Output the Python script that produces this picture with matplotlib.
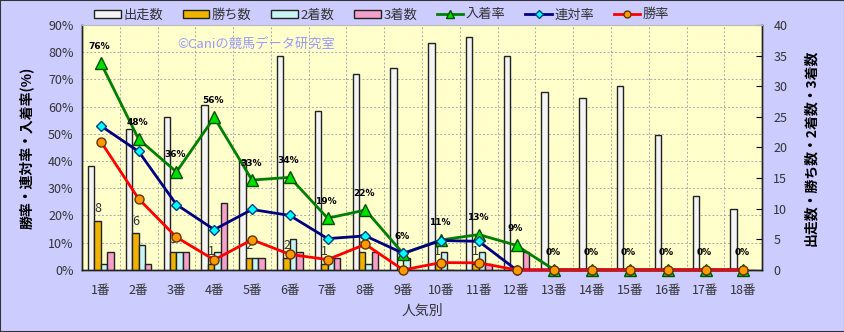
import matplotlib
matplotlib.use("Agg")
import matplotlib.pyplot as plt
from matplotlib.lines import Line2D
from matplotlib.patches import Patch, Rectangle
import numpy as np

plt.rcParams["font.family"] = ["Noto Sans CJK JP", "DejaVu Sans"]

CATEGORIES = [f"{i}番" for i in range(1, 19)]
STARTS = [17, 23, 25, 27, 18, 35, 26, 32, 33, 37, 38, 35, 29, 28, 30, 22, 12, 10]
WINS = [8, 6, 3, 1, 2, 2, 1, 3, 0, 1, 1, 0, 0, 0, 0, 0, 0, 0]
SECONDS = [1, 4, 3, 3, 2, 5, 2, 1, 2, 3, 3, 0, 0, 0, 0, 0, 0, 0]
THIRDS = [3, 1, 3, 11, 2, 3, 2, 3, 0, 0, 1, 3, 0, 0, 0, 0, 0, 0]
PLACE_RATE = [76, 48, 36, 56, 33, 34, 19, 22, 6, 11, 13, 9, 0, 0, 0, 0, 0, 0]
QUINELLA_RATE = [52.9, 43.5, 24.0, 14.8, 22.2, 20.0, 11.5, 12.5, 6.1, 10.8, 10.5,
                 0, 0, 0, 0, 0, 0, 0]
WIN_RATE = [47.1, 26.1, 12.0, 3.7, 11.1, 5.7, 3.8, 9.4, 0, 2.7, 2.6,
            0, 0, 0, 0, 0, 0, 0]

BG = "#CCCCFF"
PLOT_BG = "#FFFFCC"
TEXT = "#333333"

fig = plt.figure(figsize=(8.45, 3.32), dpi=100, facecolor=BG)
ax_bar = fig.add_axes([0.097, 0.187, 0.805, 0.738])
ax = ax_bar.twinx()
# lines on top of bars, left axis for rates
ax_bar.yaxis.tick_right()
ax_bar.yaxis.set_label_position("right")
ax.yaxis.tick_left()
ax.yaxis.set_label_position("left")
ax.set_zorder(ax_bar.get_zorder() + 1)
ax.patch.set_visible(False)
ax_bar.set_facecolor(PLOT_BG)

x = np.arange(len(CATEGORIES))
w = 0.17
bar_specs = [
    (STARTS, "#F4F4F4", "出走数"),
    (WINS, "#F0B400", "勝ち数"),
    (SECONDS, "#C8F4F4", "2着数"),
    (THIRDS, "#F4A0C8", "3着数"),
]
for k, (vals, color, _) in enumerate(bar_specs):
    ax_bar.bar(x + (k - 1.5) * w, vals, width=w, color=color,
               edgecolor="#222222", linewidth=1.0, zorder=3)

for i, v in enumerate(WINS):
    if v > 0:
        ax_bar.text(x[i] - 0.5 * w, v + 0.9, str(v), ha="center", va="bottom",
                    fontsize=9, color=TEXT, zorder=4)

ax_bar.set_ylim(0, 40)
ax_bar.set_yticks(range(0, 41, 5))
ax_bar.set_xlim(-0.5, len(CATEGORIES) - 0.5)
ax_bar.set_xticks(x)
ax_bar.set_xticklabels(CATEGORIES, fontsize=9, color=TEXT)
ax_bar.tick_params(axis="x", length=0, pad=10)
ax_bar.tick_params(axis="y", direction="in", length=4, labelsize=9,
                   labelcolor=TEXT, pad=8)
ax_bar.set_xticks(np.arange(-0.5, len(CATEGORIES), 1), minor=True)
ax_bar.tick_params(axis="x", which="minor", length=0)
ax_bar.grid(True, which="minor", axis="x", color="#AAAAAA",
            linestyle=(0, (2, 2)), linewidth=0.7, zorder=0)
ax_bar.set_axisbelow(True)

ax.plot(x, PLACE_RATE, color="#008000", linewidth=2, marker="^",
        markersize=9, markerfacecolor="#00E000", markeredgecolor="#005000",
        zorder=3, clip_on=False)
ax.plot(x, QUINELLA_RATE, color="#000080", linewidth=2, marker="D",
        markersize=5.5, markerfacecolor="#00FFFF", markeredgecolor="#004080",
        zorder=4, clip_on=False)
ax.plot(x, WIN_RATE, color="#FF0000", linewidth=2, marker="o",
        markersize=6.5, markerfacecolor="#FF9900", markeredgecolor="#663300",
        zorder=5, clip_on=False)

for i, v in enumerate(PLACE_RATE):
    ax.annotate(f"{v}%", (x[i], v), xytext=(-1, 9), textcoords="offset points",
                ha="center", va="bottom", fontsize=6.5, fontweight="bold",
                color="black", family="DejaVu Sans")

ax.set_ylim(0, 90)
ax.set_yticks(range(0, 91, 10))
ax.set_yticklabels([f"{v}%" for v in range(0, 91, 10)])
ax.tick_params(axis="y", length=0, labelsize=9, labelcolor=TEXT, pad=6)

# horizontal grid at 10% steps
for v in range(10, 90, 10):
    ax_bar.axhline(v * 40 / 90, color="#AAAAAA", linestyle=(0, (2, 2)),
                   linewidth=0.7, zorder=0)

for a in (ax, ax_bar):
    for side in ("left", "bottom", "right"):
        a.spines[side].set_color("#222222")
        a.spines[side].set_linewidth(1.0)
    a.spines["top"].set_color("#BBBBBB")

ax.set_ylabel("勝率・連対率・入着率(%)", fontsize=10, fontweight="bold",
              color="black", labelpad=10)
ax_bar.set_ylabel("出走数・勝ち数・2着数・3着数", fontsize=10, fontweight="bold",
                  color="black", rotation=90, labelpad=12)
ax_bar.set_xlabel("人気別", fontsize=10, color=TEXT, labelpad=5)

ax.text(0.14, 0.92, "©Caniの競馬データ研究室", transform=ax.transAxes,
        fontsize=9.5, color="#9999FF", ha="left", va="center")

handles = [Patch(facecolor=c, edgecolor="#222222", linewidth=1.0, label=l)
           for _, c, l in bar_specs]
handles += [
    Line2D([], [], color="#008000", linewidth=2, marker="^", markersize=6,
           markerfacecolor="#00E000", markeredgecolor="#005000", label="入着率"),
    Line2D([], [], color="#000080", linewidth=2, marker="D", markersize=4,
           markerfacecolor="#00FFFF", markeredgecolor="#004080", label="連対率"),
    Line2D([], [], color="#FF0000", linewidth=2, marker="o", markersize=5,
           markerfacecolor="#FF9900", markeredgecolor="#663300", label="勝率"),
]
leg = fig.legend(handles=handles, loc="center", bbox_to_anchor=(0.452, 0.955),
                 ncol=7, frameon=False, fontsize=9.5, handlelength=2.0,
                 handleheight=0.55, handletextpad=0.2, columnspacing=1.5)
for t in leg.get_texts():
    t.set_color(TEXT)

fig.patches.append(Rectangle((0, 0), 1, 1, transform=fig.transFigure,
                             fill=False, edgecolor="#333333", linewidth=1.5))

fig.savefig("out.png", dpi=100, facecolor=BG)
